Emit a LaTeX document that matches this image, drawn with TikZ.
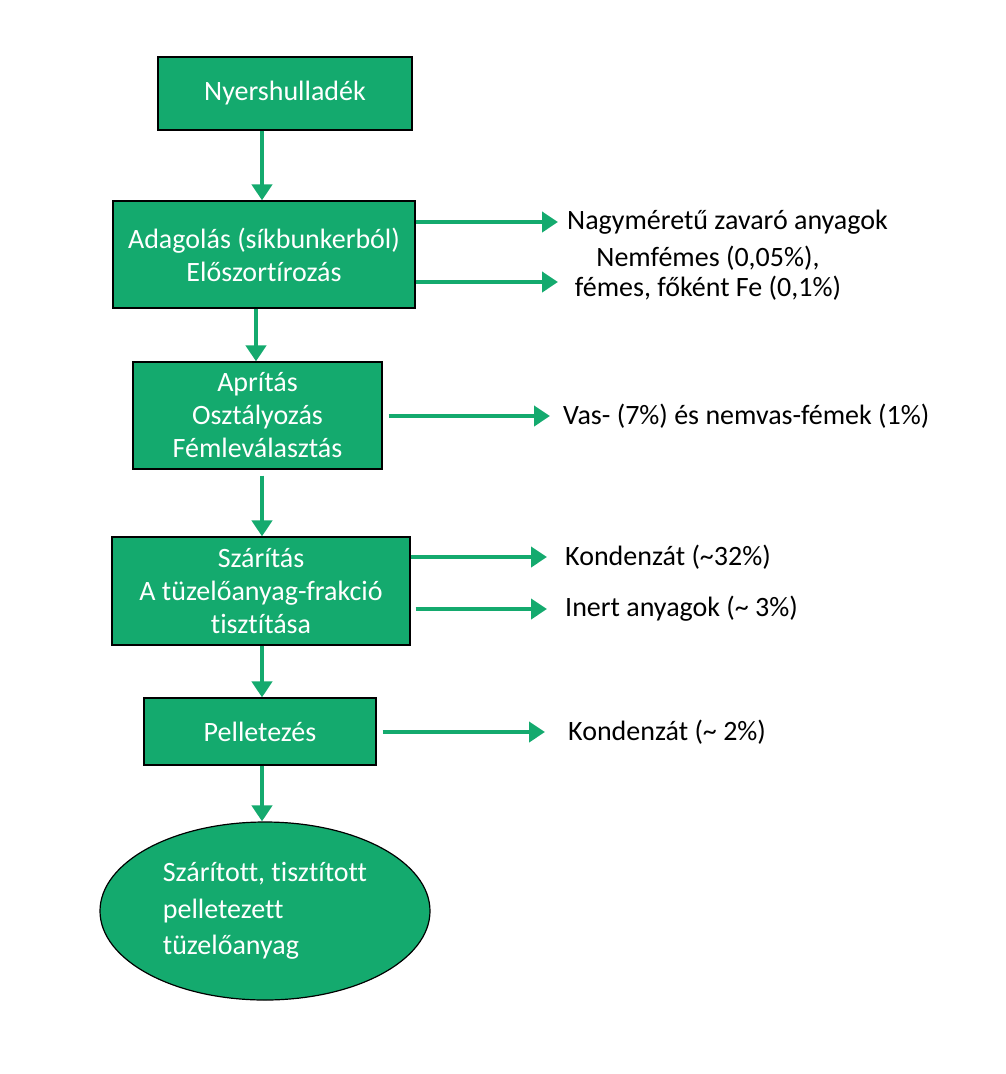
\documentclass[tikz,border=0pt]{standalone}
\usepackage{fontspec}
\setmainfont{Carlito}[Ligatures = NoCommon]
\usetikzlibrary{arrows.meta, shapes.geometric}

\definecolor{procgreen}{RGB}{20,170,110}

\begin{document}
\begin{tikzpicture}[x = 1pt, y = -1pt, > = {Triangle[length = 16pt, width = 20pt]},
	every node/.style = {font = \fontsize{28}{33}\selectfont},
	procbox/.style = {draw = black, line width = 1.2pt, fill = procgreen, text = white, align = center, inner sep = 0pt},
	sidetext/.style = {anchor = west, text = black, inner sep = 9pt},
	flow/.style = {->, draw = procgreen, line width = 4pt}]

	% Canvas

	\useasboundingbox (0, 0) rectangle (1005, 1074);

	% Process steps

	\node [procbox, minimum width = 254pt, minimum height = 73pt] (nyers) at (285, 93.5) {Nyershulladék};
	\node [procbox, minimum width = 302pt, minimum height = 107pt] (adag) at (264, 254.5) {Adagolás (síkbunkerból)\\Előszortírozás};
	\node [procbox, minimum width = 249pt, minimum height = 107pt] (aprit) at (257.5, 415.5) {Aprítás\\Osztályozás\\Fémleválasztás};
	\node [procbox, minimum width = 298pt, minimum height = 108pt] (szarit) at (261, 591) {Szárítás\\A tüzelőanyag-frakció\\tisztítása};
	\node [procbox, minimum width = 232pt, minimum height = 67pt] (pellet) at (260, 731.5) {Pelletezés};
	\node [procbox, ellipse, align = left, minimum width = 330pt, minimum height = 178pt, font = \fontsize{28}{36.5}\selectfont] (termek) at (265, 911) {Szárított, tisztított\\pelletezett\\tüzelőanyag};

	% Side outputs

	\node [sidetext] (nagy) at (558, 222) {Nagyméretű zavaró anyagok};
	\node [text = black, align = center, inner sep = 0pt, font = \fontsize{28}{30}\selectfont] (nemfem) at (708, 273) {Nemfémes (0,05\%),\\fémes, főként Fe (0,1\%)};
	\node [sidetext] (vas) at (554, 416) {Vas- (7\%) és nemvas-fémek (1\%)};
	\node [sidetext] (kond) at (556, 557) {Kondenzát (\textasciitilde 32\%)};
	\node [sidetext] (inert) at (556, 609) {Inert anyagok (\textasciitilde{} 3\%)};
	\node [sidetext] (kondpel) at (559, 732) {Kondenzát (\textasciitilde{} 2\%)};

	\coordinate (nemfemin) at (558, 282);
	\coordinate (spine) at (262, 0);
	\coordinate (spineb) at (256, 0);

	% Main flow

	\draw [flow] (nyers.south -| spine) -- (adag.north -| spine);
	\draw [flow] (adag.south -| spineb) -- (aprit.north -| spineb);
	\draw [flow, shorten < = 6pt] (aprit.south -| spine) -- (szarit.north -| spine);
	\draw [flow] (szarit.south -| spine) -- (pellet.north -| spine);
	\draw [flow] (pellet.south -| spine) -- (termek.north -| spine);

	% Outputs to the right

	\draw [flow] (adag.east |- nagy) -- (nagy.west);
	\draw [flow] (adag.east |- nemfemin) -- (nemfemin);
	\draw [flow, shorten < = 6pt, shorten > = 4pt] (aprit.east |- vas) -- (vas.west);
	\draw [flow, shorten > = 9pt] (szarit.east |- kond) -- (kond.west);
	\draw [flow, shorten < = 5pt, shorten > = 9pt] (szarit.east |- inert) -- (inert.west);
	\draw [flow, shorten < = 6pt, shorten > = 14pt] (pellet.east |- kondpel) -- (kondpel.west);

\end{tikzpicture}
\end{document}
